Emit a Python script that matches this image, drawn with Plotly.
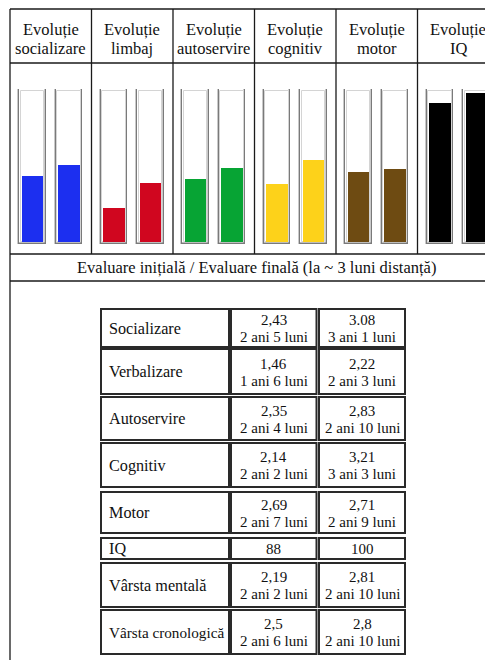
import plotly.graph_objects as go

# ---------------- data ----------------
header_line1 = ["Evoluție"] * 6
header_line2 = ["socializare", "limbaj", "autoservire", "cognitiv", "motor", "IQ"]
bar_colors = ["#1c2ff0", "#d0061f", "#07a434", "#fdd21a", "#6e4b12", "#000000"]
# bar fill level, as % of the tube
initial_level = [43.6, 22.6, 41.4, 38.2, 46.3, 91.9]
final_level = [51.3, 39.0, 49.1, 54.1, 48.5, 98.5]
caption = "Evaluare inițială / Evaluare finală (la ~ 3 luni distanță)"

row_labels = ["Socializare", "Verbalizare", "Autoservire", "Cognitiv", "Motor", "IQ",
              "Vârsta mentală", "Vârsta cronologică"]
initial_value = ["2,43", "1,46", "2,35", "2,14", "2,69", "88", "2,19", "2,5"]
initial_age = ["2 ani 5 luni", "1 ani 6 luni", "2 ani 4 luni", "2 ani 2 luni", "2 ani 7 luni", "",
               "2 ani 2 luni", "2 ani 6 luni"]
final_value = ["3.08", "2,22", "2,83", "3,21", "2,71", "100", "2,81", "2,8"]
final_age = ["3 ani 1 luni", "2 ani 3 luni", "2 ani 10 luni", "3 ani 3 luni", "2 ani 9 luni", "",
             "2 ani 10 luni", "2 ani 10 luni"]

# ---------------- layout helpers ----------------
W, H = 485, 660
FONT = "Times New Roman, Liberation Serif, Tinos, DejaVu Serif, serif"
LINE = "#1a1a1a"


def px(x):
    return x / W


def py(y):
    return 1 - y / H


frame_left, frame_top = 10, 9
col_w = 81.5
header_bot, bars_bot, caption_bot = 63, 254, 281
frame_right = frame_left + 6 * col_w

fig = go.Figure()

# bar positions: two tubes per column
xs_init = [k + 0.276 for k in range(6)]
xs_final = [k + 0.724 for k in range(6)]
xs = []
cols = []
vals = []
for k in range(6):
    xs += [xs_init[k], xs_final[k]]
    cols += [bar_colors[k], bar_colors[k]]
    vals += [initial_level[k], final_level[k]]

# tubes
fig.add_trace(go.Bar(x=xs, y=[102.6] * 12, base=-1.3, width=0.331,
                     marker=dict(color="white", line=dict(color="#7a7a7a", width=1.4)),
                     hoverinfo="skip", showlegend=False))
fig.add_trace(go.Bar(x=xs, y=[100.6] * 12, base=-0.3, width=0.29,
                     marker=dict(color="white", line=dict(color="#d4d4d4", width=1)),
                     hoverinfo="skip", showlegend=False))
# levels
fig.add_trace(go.Bar(x=xs, y=vals, base=0, width=0.258,
                     marker=dict(color=cols, line=dict(width=0)),
                     showlegend=False))

x0 = -frame_left / col_w
fig.update_layout(
    width=W, height=H, margin=dict(l=0, r=0, t=0, b=0),
    paper_bgcolor="white", plot_bgcolor="rgba(0,0,0,0)",
    barmode="overlay", bargap=0,
    font=dict(family=FONT, color="#111"),
    xaxis=dict(range=[x0, x0 + W / col_w], domain=[0, 1], visible=False, fixedrange=True),
    yaxis=dict(range=[-1.3, 101.3], domain=[py(244), py(89)], visible=False, fixedrange=True),
)

shapes = []


def hline(x1, x2, y, w=1.3, c=LINE):
    shapes.append(dict(type="line", xref="paper", yref="paper", x0=px(x1), x1=px(x2),
                       y0=py(y), y1=py(y), line=dict(color=c, width=w)))


def vline(x, y1, y2, w=1.3, c=LINE):
    shapes.append(dict(type="line", xref="paper", yref="paper", x0=px(x), x1=px(x),
                       y0=py(y1), y1=py(y2), line=dict(color=c, width=w)))


# outer frame
for y in [frame_top, header_bot, bars_bot, caption_bot]:
    hline(frame_left, frame_right + 5, y)
vline(frame_left, frame_top, H + 2)
for k in range(1, 6):
    vline(frame_left + k * col_w, frame_top, bars_bot)

annotations = []


def text(x, y, s, size, xanchor="center"):
    annotations.append(dict(xref="paper", yref="paper", x=px(x), y=py(y), text=s,
                            showarrow=False, xanchor=xanchor, yanchor="middle",
                            font=dict(family=FONT, size=size, color="#111")))


for k in range(6):
    cx = frame_left + k * col_w + col_w / 2
    text(cx, 29, header_line1[k], 16.5)
    text(cx, 48, header_line2[k], 16.5)

text((frame_left + frame_right) / 2 + 2, 268, caption, 16.5)

# table
row_top = [309, 349, 397, 443, 492, 538, 563, 610]
row_bot = [347, 394, 440, 487, 533, 559, 607, 654]
cell_x = [(101, 229), (231, 316.5), (319, 405)]
for i in range(len(row_labels)):
    for (a, b) in cell_x:
        shapes.append(dict(type="rect", xref="paper", yref="paper", x0=px(a), x1=px(b),
                           y0=py(row_bot[i]), y1=py(row_top[i]),
                           line=dict(color="#2a2a2a", width=2)))
    mid = (row_top[i] + row_bot[i]) / 2
    label_size = 16.2 if len(row_labels[i]) < 16 else 15.2
    text(106.5, mid + 0.5, row_labels[i], label_size, xanchor="left")
    c2 = (cell_x[1][0] + cell_x[1][1]) / 2
    c3 = (cell_x[2][0] + cell_x[2][1]) / 2
    if initial_age[i]:
        text(c2, mid - 8, initial_value[i], 15)
        text(c2, mid + 9, initial_age[i], 15)
        text(c3, mid - 8, final_value[i], 15)
        text(c3, mid + 9, final_age[i], 15)
    else:
        text(c2, mid, initial_value[i], 15)
        text(c3, mid, final_value[i], 15)

fig.update_layout(shapes=shapes, annotations=annotations)
fig.write_html("out.html", config={"displayModeBar": False},
               post_script="document.body.style.margin='0';document.body.style.overflow='hidden';")
